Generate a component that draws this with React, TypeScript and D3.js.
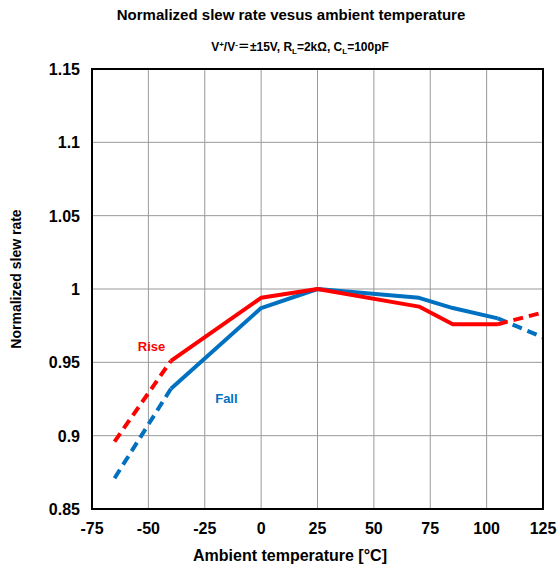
import React from "react";
import * as d3 from "d3";

const xTicks = [-75, -50, -25, 0, 25, 50, 75, 100, 125];
const yTicks = [0.85, 0.9, 0.95, 1, 1.05, 1.1, 1.15];
const yTickLabels = ["0.85", "0.9", "0.95", "1", "1.05", "1.1", "1.15"];

const riseSolidT = [-40, 0, 25, 70, 85, 105];
const riseSolidV = [0.951, 0.994, 1.0, 0.988, 0.976, 0.976];
const riseLowT = [-65, -40];
const riseLowV = [0.896, 0.951];
const riseHighT = [105, 125];
const riseHighV = [0.976, 0.984];

const fallSolidT = [-40, 0, 25, 70, 85, 105];
const fallSolidV = [0.932, 0.987, 1.0, 0.994, 0.987, 0.98];
const fallLowT = [-65, -40];
const fallLowV = [0.871, 0.932];
const fallHighT = [105, 125];
const fallHighV = [0.98, 0.967];

const RED = "#FF0000";
const BLUE = "#0070C0";
const FONT = "'Liberation Sans', Arial, sans-serif";

export default function App() {
  const W = 557, H = 570;
  const L = 92, R = 543, T = 69, B = 509;
  const x = d3.scaleLinear().domain([-75, 125]).range([L, R]);
  const y = d3.scaleLinear().domain([0.85, 1.15]).range([B, T]);
  const line = d3
    .line<[number, number]>()
    .x((d) => x(d[0]))
    .y((d) => y(d[1]));
  const mk = (t: number[], v: number[]) => line(t.map((tt, i) => [tt, v[i]] as [number, number])) || "";

  const series = [
    { t: fallLowT, v: fallLowV, c: BLUE, dash: "10,6" },
    { t: fallHighT, v: fallHighV, c: BLUE, dash: "10,6" },
    { t: fallSolidT, v: fallSolidV, c: BLUE, dash: undefined },
    { t: riseLowT, v: riseLowV, c: RED, dash: "10,6" },
    { t: riseHighT, v: riseHighV, c: RED, dash: "10,6" },
    { t: riseSolidT, v: riseSolidV, c: RED, dash: undefined },
  ];

  return (
    <div style={{ position: "absolute", left: 0, top: 0 }}>
      <svg width={W} height={H} style={{ display: "block", fontFamily: FONT }}>
        <rect width={W} height={H} fill="#fff" />
        <defs>
          <clipPath id="plot">
            <rect x={L} y={T} width={R - L} height={B - T} />
          </clipPath>
        </defs>
        <text x={291} y={20} textAnchor="middle" fontWeight="bold" fontSize={15}>
          Normalized slew rate vesus ambient temperature
        </text>
        <text x={300} y={51} textAnchor="middle" fontWeight="bold" fontSize={12}>
          V<tspan dy={-4} fontSize={8}>+</tspan>
          <tspan dy={4}>/V</tspan>
          <tspan dy={-4} fontSize={8}>-</tspan>
          <tspan dy={4} fontFamily="'Noto Sans CJK JP', sans-serif">{"＝"}</tspan>
          <tspan>{"±15V, R"}</tspan>
          <tspan dy={3} fontSize={8}>L</tspan>
          <tspan dy={-3}>{"=2kΩ, C"}</tspan>
          <tspan dy={3} fontSize={8}>L</tspan>
          <tspan dy={-3}>=100pF</tspan>
        </text>
        {xTicks.slice(1, -1).map((t) => (
          <line key={"vx" + t} x1={x(t)} x2={x(t)} y1={T} y2={B} stroke="#999" strokeWidth={1} />
        ))}
        {yTicks.slice(1, -1).map((t) => (
          <line key={"hy" + t} x1={L} x2={R} y1={y(t)} y2={y(t)} stroke="#999" strokeWidth={1} />
        ))}
        <g clipPath="url(#plot)">
          {series.map((s, i) => (
            <path
              key={i}
              d={mk(s.t, s.v)}
              fill="none"
              stroke={s.c}
              strokeWidth={4}
              strokeDasharray={s.dash}
              strokeLinejoin="round"
            />
          ))}
        </g>
        <rect x={L} y={T} width={R - L} height={B - T} fill="none" stroke="#000" strokeWidth={2} />
        {yTicks.map((t, i) => (
          <text key={"yl" + t} x={80} y={y(t) + 6} textAnchor="end" fontWeight="bold" fontSize={16}>
            {yTickLabels[i]}
          </text>
        ))}
        {xTicks.map((t) => (
          <text key={"xl" + t} x={x(t)} y={534} textAnchor="middle" fontWeight="bold" fontSize={16}>
            {t}
          </text>
        ))}
        <text x={290} y={561} textAnchor="middle" fontWeight="bold" fontSize={16}>
          Ambient temperature [°C]
        </text>
        <text
          transform={`translate(21,279) rotate(-90)`}
          textAnchor="middle"
          fontWeight="bold"
          fontSize={14}
        >
          Normalized slew rate
        </text>
        <text x={x(-48.6)} y={y(0.961) + 5} textAnchor="middle" fontWeight="bold" fontSize={13} fill={RED}>
          Rise
        </text>
        <text x={x(-15.4)} y={y(0.926) + 5} textAnchor="middle" fontWeight="bold" fontSize={13} fill={BLUE}>
          Fall
        </text>
      </svg>
    </div>
  );
}
